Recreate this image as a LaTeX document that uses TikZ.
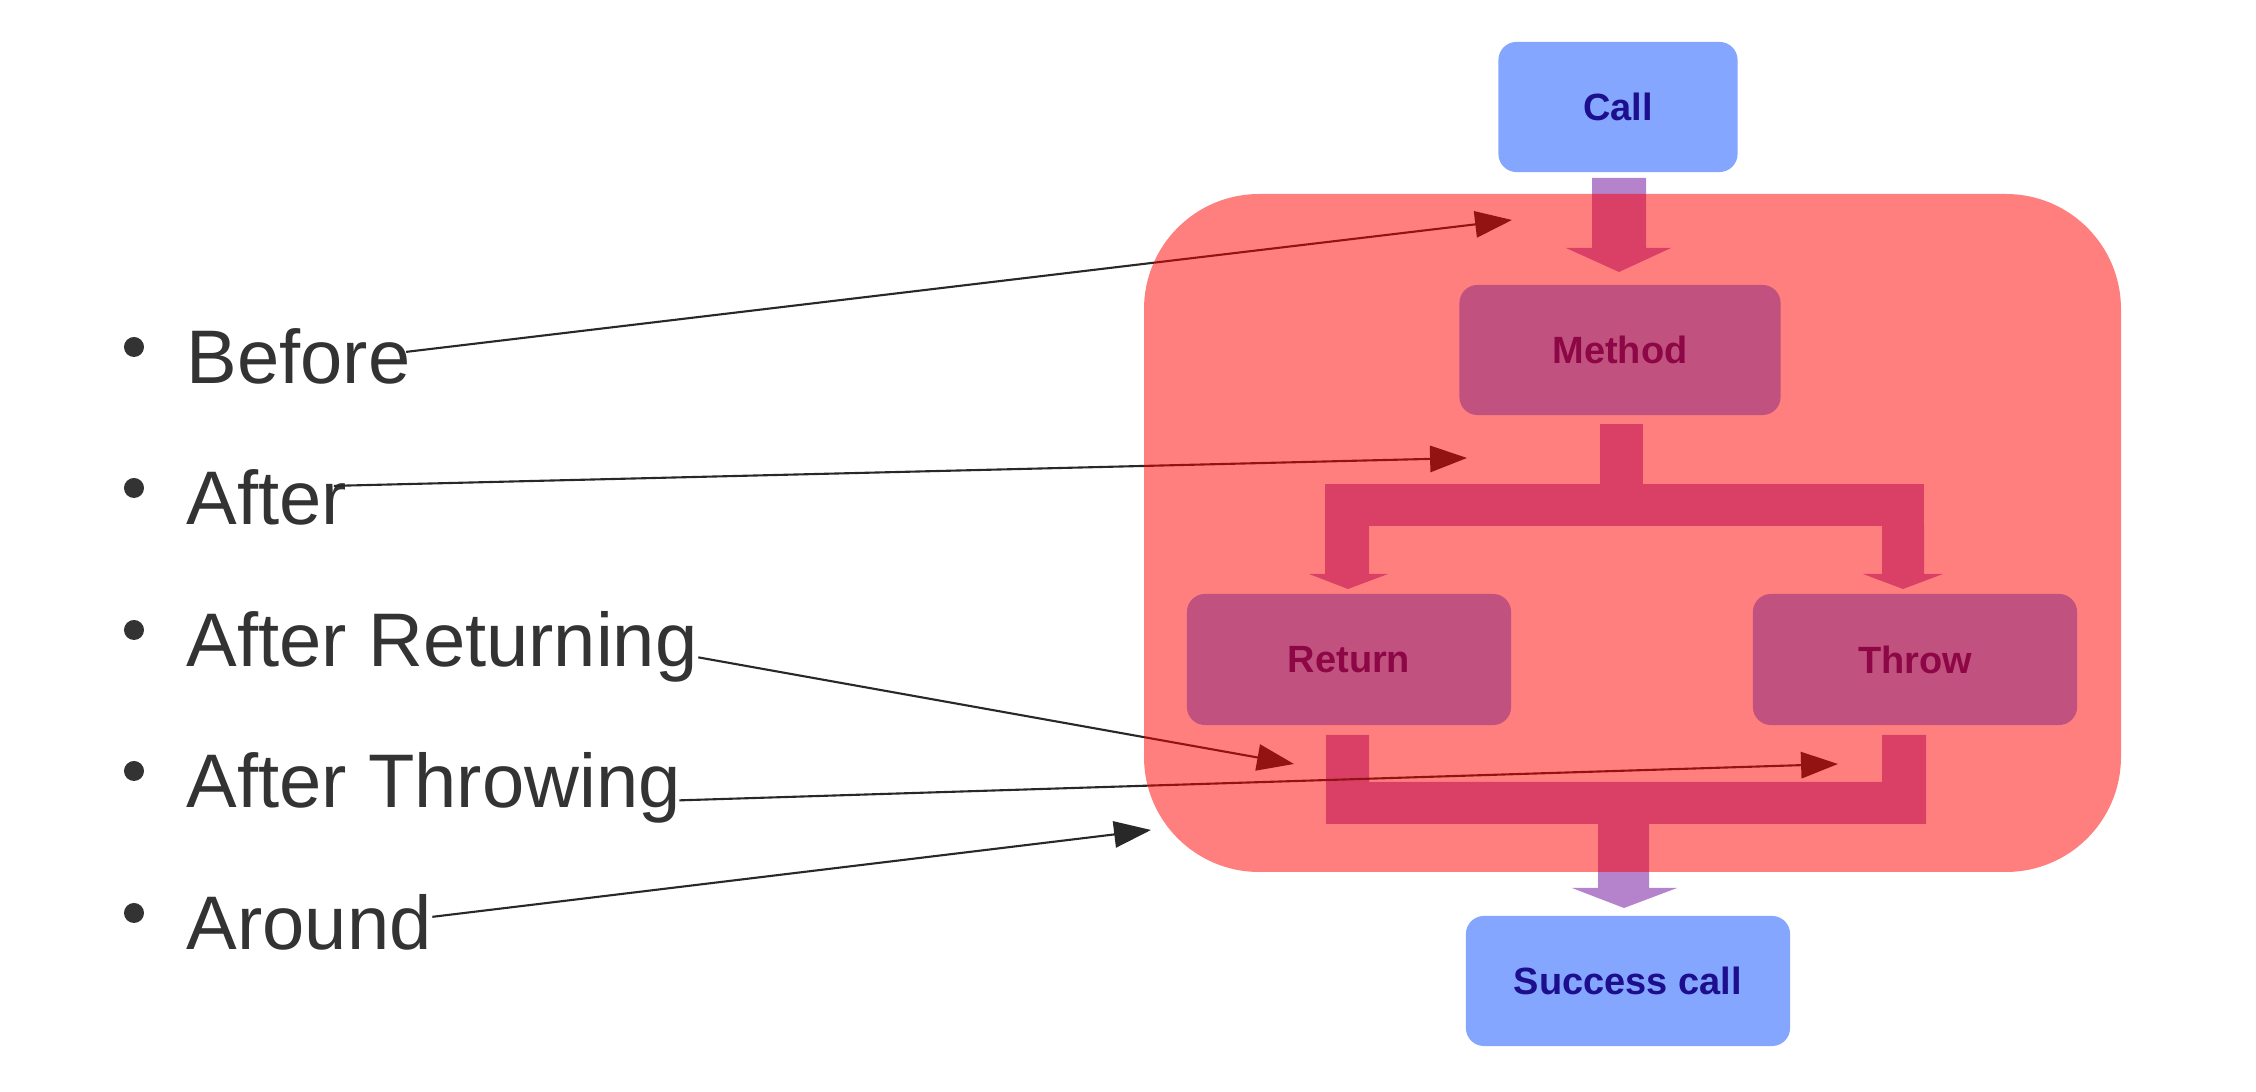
\documentclass[tikz,border=0pt]{standalone}
\usepackage{fontspec}
\setmainfont{Liberation Sans}
\usetikzlibrary{arrows.meta}
\definecolor{boxblue}{RGB}{132,166,255}
\definecolor{txtblue}{RGB}{28,14,140}
\definecolor{flowpurple}{RGB}{181,130,204}
\definecolor{bullettxt}{RGB}{51,51,51}
\definecolor{annot}{RGB}{40,40,40}
\begin{document}
\begin{tikzpicture}[x=0.01cm,y=-0.01cm,
  flowbox/.style={fill=boxblue, rounded corners=0.18cm, inner sep=0pt, minimum height=1.3cm, font=\fontsize{10.8pt}{13pt}\selectfont\bfseries, text=txtblue},
  flowarrow/.style={fill=flowpurple},
  itemtext/.style={anchor=base west, inner sep=0pt, font=\fontsize{21.6pt}{26pt}\selectfont, text=bullettxt},
  dot/.style={circle, fill=bullettxt, inner sep=0pt, minimum size=0.2cm},
  annarrow/.style={draw=annot, line width=0.6pt, -{Triangle[length=10.5pt,width=7.5pt]}}]
\useasboundingbox (0,0) rectangle (2256,1092);
\fill[white] (0,0) rectangle (2256,1092);

% flow boxes
\node[flowbox, minimum width=2.39cm] (call) at (1618,107) {Call};
\node[flowbox, minimum width=3.21cm] (method) at (1620,350) {Method};
\node[flowbox, minimum width=3.24cm, minimum height=1.31cm] (return) at (1349,659.5) {Return};
\node[flowbox, minimum width=3.24cm, minimum height=1.31cm] (throw) at (1915,659.5) {Throw};
\node[flowbox, minimum width=3.24cm] (success) at (1628,981) {Success call};

% block arrows
\fill[flowarrow] (1592,178) -- (1646,178) -- (1646,248) -- (1671,248) -- (1619,272) -- (1566,248) -- (1592,248) -- cycle;
\fill[flowarrow] (1600,424) rectangle (1643,484);
\fill[flowarrow] (1325,484) rectangle (1924,526);
\fill[flowarrow] (1325,526) -- (1369,526) -- (1369,574) -- (1388,574) -- (1348,589) -- (1309,574) -- (1325,574) -- cycle;
\fill[flowarrow] (1882,526) -- (1924,526) -- (1924,574) -- (1943,574) -- (1903,589) -- (1863,574) -- (1882,574) -- cycle;
\fill[flowarrow] (1326,735) -- (1369,735) -- (1369,782) -- (1882,782) -- (1882,735) -- (1926,735) -- (1926,824) -- (1326,824) -- cycle;
\fill[flowarrow] (1598,824) -- (1649,824) -- (1649,888) -- (1677,888) -- (1624,908) -- (1572,888) -- (1598,888) -- cycle;

% bullet list
\node[dot] (d1) at (134,347) {};
\node[dot] (d2) at (134,488) {};
\node[dot] (d3) at (134,630) {};
\node[dot] (d4) at (134,771) {};
\node[dot] (d5) at (134,913) {};
\node[itemtext] (before) at (186,384) {Before};
\node[itemtext] (after) at (186,525) {After};
\node[itemtext] (afterret) at (186,667) {After Returning};
\node[itemtext] (afterthr) at (186,808) {After Throwing};
\node[itemtext] (around) at (186,950) {Around};

% annotation targets
\coordinate (t1) at (1512,220);
\coordinate (t2) at (1467,458);
\coordinate (t3) at (1294,764);
\coordinate (t4) at (1838,764);
\coordinate (t5) at (1151,830);

\draw[annarrow] ([xshift=-0.05cm,yshift=0.05cm]before.east) -- (t1);
\draw[annarrow] ([xshift=-0.14cm,yshift=0.12cm]after.east) -- (t2);
\draw[annarrow] ([yshift=-0.1cm]afterret.east) -- (t3);
\draw[annarrow] ([xshift=-0.02cm,yshift=-0.12cm]afterthr.east) -- (t4);
\draw[annarrow] ([yshift=0.06cm]around.east) -- (t5);

% translucent red aspect region
\fill[red, opacity=0.5, rounded corners=1.15cm] (1144,194) rectangle (2121,872);
\end{tikzpicture}
\end{document}
